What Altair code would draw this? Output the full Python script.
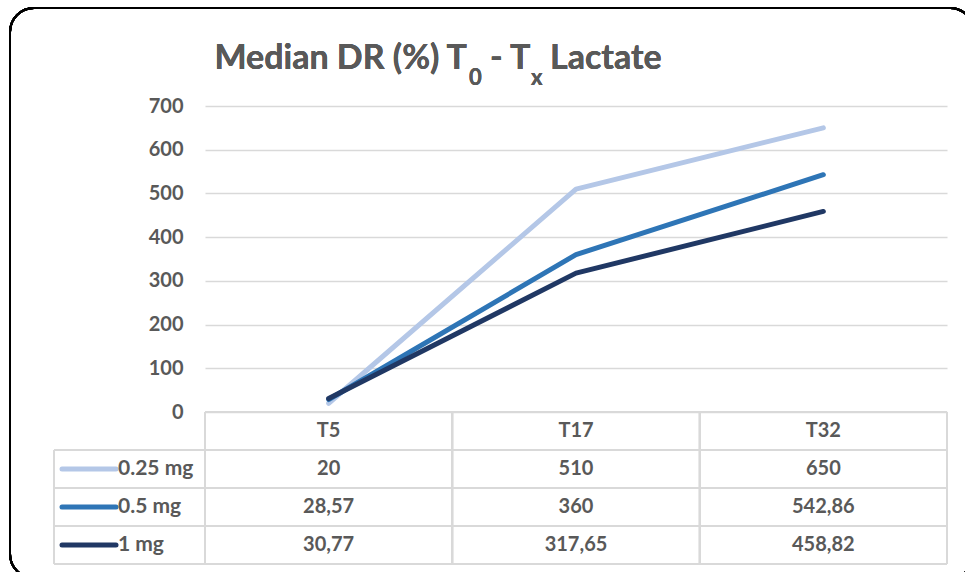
import altair as alt
import pandas as pd

# ---- data -------------------------------------------------------------
times = ["T5", "T17", "T32"]
doses = ["0.25 mg", "0.5 mg", "1 mg"]
dr_025 = [20, 510, 650]
dr_05 = [28.57, 360, 542.86]
dr_1 = [30.77, 317.65, 458.82]
colors = ["#B4C7E7", "#2E75B6", "#203864"]
y_ticks = [0, 100, 200, 300, 400, 500, 600, 700]

series = [dr_025, dr_05, dr_1]
rows = []
for i, (dose, vals) in enumerate(zip(doses, series)):
    for t, v in zip(times, vals):
        rows.append({
            "time": t,
            "dose": dose,
            "value": v,
            "row": i + 1,
            "label": f"{v:g}".replace(".", ","),
        })
df = pd.DataFrame(rows)
header_df = pd.DataFrame({"time": times, "row": [0] * len(times)})
legend_df = pd.DataFrame({"dose": doses, "row": list(range(1, len(doses) + 1))})

# ---- layout -----------------------------------------------------------
W, H = 742, 306
ROW_H = 38
LEG_W = 151
TXT = "#595959"
GRID = "#D9D9D9"
FONT = "Lato"

x_enc = alt.X("time:N", sort=times,
              scale=alt.Scale(type="point", domain=times, padding=0.5),
              axis=None)
row_scale = alt.Scale(domain=[0, 3], range=[H + ROW_H / 2, H + ROW_H * 3.5])
y_row = alt.Y("row:Q", scale=row_scale, axis=None)
color_enc = alt.Color("dose:N", scale=alt.Scale(domain=doses, range=colors),
                      legend=None)

base = alt.Chart(df)

# rounded outer frame (outline only, so the axis grid stays visible)
frame = alt.Chart(df).mark_rect(
    fillOpacity=0, stroke="black", strokeWidth=2, cornerRadius=24
).encode(
    x=alt.value(-195), x2=alt.value(769),
    y=alt.value(-98), y2=alt.value(472),
)

# table borders
border_layers = []
# top of header row (plot width only)
border_layers.append(
    alt.Chart(df).mark_rule(color=GRID, strokeWidth=1.5).encode(
        x=alt.value(0), x2=alt.value(W), y=alt.value(H)))
# row separators across legend column and data columns
for k in range(1, 5):
    border_layers.append(
        alt.Chart(df).mark_rule(color=GRID, strokeWidth=1.5).encode(
            x=alt.value(-LEG_W), x2=alt.value(W), y=alt.value(H + ROW_H * k)))
# column separators
for k in range(4):
    border_layers.append(
        alt.Chart(df).mark_rule(color=GRID, strokeWidth=1.5).encode(
            x=alt.value(W * k / 3), y=alt.value(H), y2=alt.value(H + ROW_H * 4)))
border_layers.append(
    alt.Chart(df).mark_rule(color=GRID, strokeWidth=1.5).encode(
        x=alt.value(-LEG_W), y=alt.value(H + ROW_H), y2=alt.value(H + ROW_H * 4)))

# the three dose lines
lines = base.mark_line(strokeWidth=5, strokeCap="round", strokeJoin="round").encode(
    x=x_enc,
    y=alt.Y("value:Q", scale=alt.Scale(domain=[0, 700]),
            axis=alt.Axis(values=y_ticks, grid=True, gridColor=GRID, gridWidth=1.5,
                          domain=False, ticks=False, tickSize=0, labelPadding=22,
                          labelFont=FONT, labelFontSize=20, labelFontWeight="bold",
                          labelColor=TXT, title=None)),
    color=color_enc,
    order=alt.Order("row:Q"),
)

text_style = dict(font=FONT, fontSize=20, fontWeight="bold", color=TXT,
                  baseline="middle")
legend_style = dict(text_style, fontSize=21)

header = alt.Chart(header_df).mark_text(align="center", **text_style).encode(
    x=x_enc, y=y_row, text="time:N")

cells = base.mark_text(align="center", **text_style).encode(
    x=x_enc, y=y_row, text="label:N")

legend_keys = alt.Chart(legend_df).mark_rule(strokeWidth=5, strokeCap="round").encode(
    x=alt.value(-143), x2=alt.value(-89), y=y_row, color=color_enc)

legend_text = alt.Chart(legend_df).mark_text(align="left", **legend_style).encode(
    x=alt.value(-87), y=y_row, text="dose:N")

# title with subscripts, built from pieces
title_main = dict(font=FONT, fontSize=34, fontWeight="bold", color=TXT,
                  baseline="alphabetic")
title_sub = dict(font=FONT, fontSize=22, fontWeight="bold", color=TXT,
                 baseline="alphabetic")
title_pieces = [
    ("Median DR (%) T", 262, -37, "right", title_main),
    ("0", 264, -21, "left", title_sub),
    ("- T", 285, -37, "left", title_main),
    ("x", 326, -21, "left", title_sub),
    ("Lactate", 345, -37, "left", title_main),
]
title_layers = [
    alt.Chart(header_df).mark_text(align=al, text=txt, **st).encode(
        x=alt.value(px), y=alt.value(py))
    for txt, px, py, al, st in title_pieces
]

chart = alt.layer(
    frame, *border_layers, lines, header, cells, legend_keys, legend_text,
    *title_layers,
).resolve_scale(y="independent").properties(
    width=W, height=H,
    autosize=alt.AutoSizeParams(type="none"),
    padding={"left": 205, "top": 106, "right": 18, "bottom": 160},
    background="white",
).configure_view(strokeWidth=0)

chart.save("out.html", embed_options={"renderer": "svg", "actions": False})
